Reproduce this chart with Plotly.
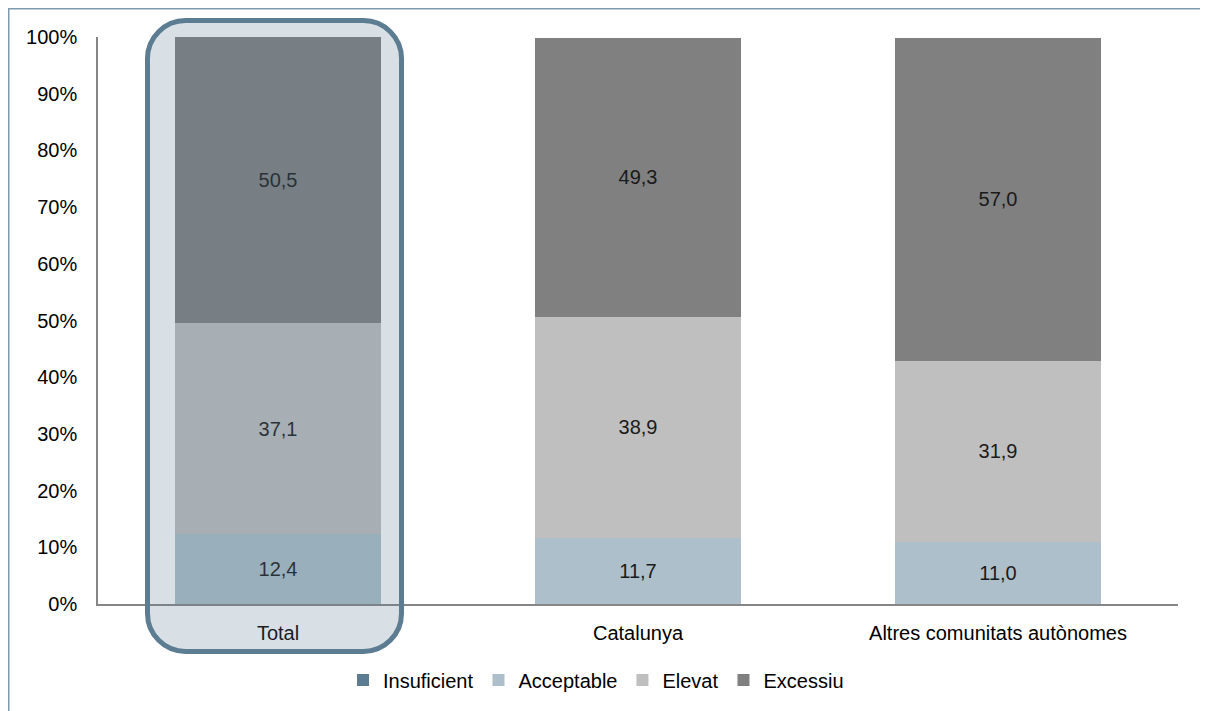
import plotly.graph_objects as go

categories = ["Total", "Catalunya", "Altres comunitats autònomes"]
insuficient = [0.0, 0.0, 0.0]
acceptable = [12.4, 11.7, 11.0]
elevat = [37.1, 38.9, 31.9]
excessiu = [50.5, 49.3, 57.0]
y_ticks = [0, 10, 20, 30, 40, 50, 60, 70, 80, 90, 100]
y_tick_labels = [f"{v}%" for v in y_ticks]

OFF = 8  # page body margin
W, H = 1200, 703
L, T = 98 - OFF, 37 - OFF
R = W - (1178 - OFF)
B = H - (604 - OFF)
PW, PH = W - L - R, H - T - B
FONT = "Liberation Sans, Arial, sans-serif"


def px(x):
    return (x - OFF - L) / PW


def py(y):
    return (H - B - (y - OFF)) / PH


fig = go.Figure()
series = [
    ("Insuficient", insuficient, "#5B7C91", False),
    ("Acceptable", acceptable, "#ADBFCA", True),
    ("Elevat", elevat, "#BFBFBF", True),
    ("Excessiu", excessiu, "#808080", True),
]
for name, vals, color, labels in series:
    fig.add_trace(go.Bar(
        name=name, x=categories, y=vals,
        marker=dict(color=color, line=dict(width=0)),
        text=[f"{v:.1f}".replace(".", ",") for v in vals] if labels else None,
        textposition="inside" if labels else "none",
        insidetextanchor="middle",
        textangle=0,
        textfont=dict(family=FONT, size=20, color="#1a1a1a"),
        constraintext="none",
        hoverinfo="skip",
    ))

# rounded highlight around Total
x0, x1, y0, y1, r = 147.5, 401.5, 20.5, 651.5, 38
k = 0.45
path = (
    f"M {px(x0 + r)},{py(y0)} L {px(x1 - r)},{py(y0)} "
    f"C {px(x1 - r + r*(1-k))},{py(y0)} {px(x1)},{py(y0 + r - r*(1-k))} {px(x1)},{py(y0 + r)} "
    f"L {px(x1)},{py(y1 - r)} "
    f"C {px(x1)},{py(y1 - r + r*(1-k))} {px(x1 - r + r*(1-k))},{py(y1)} {px(x1 - r)},{py(y1)} "
    f"L {px(x0 + r)},{py(y1)} "
    f"C {px(x0 + r - r*(1-k))},{py(y1)} {px(x0)},{py(y1 - r + r*(1-k))} {px(x0)},{py(y1 - r)} "
    f"L {px(x0)},{py(y0 + r)} "
    f"C {px(x0)},{py(y0 + r - r*(1-k))} {px(x0 + r - r*(1-k))},{py(y0)} {px(x0 + r)},{py(y0)} Z"
)
fig.add_shape(type="path", path=path, xref="paper", yref="paper", layer="above",
              fillcolor="rgba(91,124,145,0.24)", line=dict(color="#5B7C91", width=5))

# outer frame
fig.add_shape(type="rect", xref="paper", yref="paper", layer="below",
              x0=px(OFF + 0.75), x1=px(1205), y0=py(730), y1=py(OFF + 0.75),
              line=dict(color="#7F9AAD", width=1.5), fillcolor="rgba(0,0,0,0)")

fig.update_layout(
    width=W, height=H,
    margin=dict(l=L, r=R, t=T, b=B, autoexpand=False),
    barmode="stack",
    bargap=0.428,
    plot_bgcolor="white", paper_bgcolor="white",
    font=dict(family=FONT, size=20, color="#000000"),
    showlegend=True,
    legend=dict(orientation="h", x=px(596), xanchor="center", y=py(680), yanchor="middle",
                font=dict(family=FONT, size=20, color="#000000"), traceorder="normal",
                itemclick=False, bgcolor="rgba(0,0,0,0)", itemwidth=30,
                tracegroupgap=0),
    xaxis=dict(showline=True, linecolor="#868686", linewidth=1.5, ticks="",
               showgrid=False, ticklabelstandoff=10,
               tickfont=dict(family=FONT, size=20, color="#000000")),
    yaxis=dict(range=[0, 100], tickvals=y_ticks, ticktext=y_tick_labels,
               showline=True, linecolor="#868686", linewidth=1.5, ticks="",
               showgrid=False, zeroline=False, ticklabelstandoff=15,
               tickfont=dict(family=FONT, size=20, color="#000000")),
)

fig.write_html("out.html")
